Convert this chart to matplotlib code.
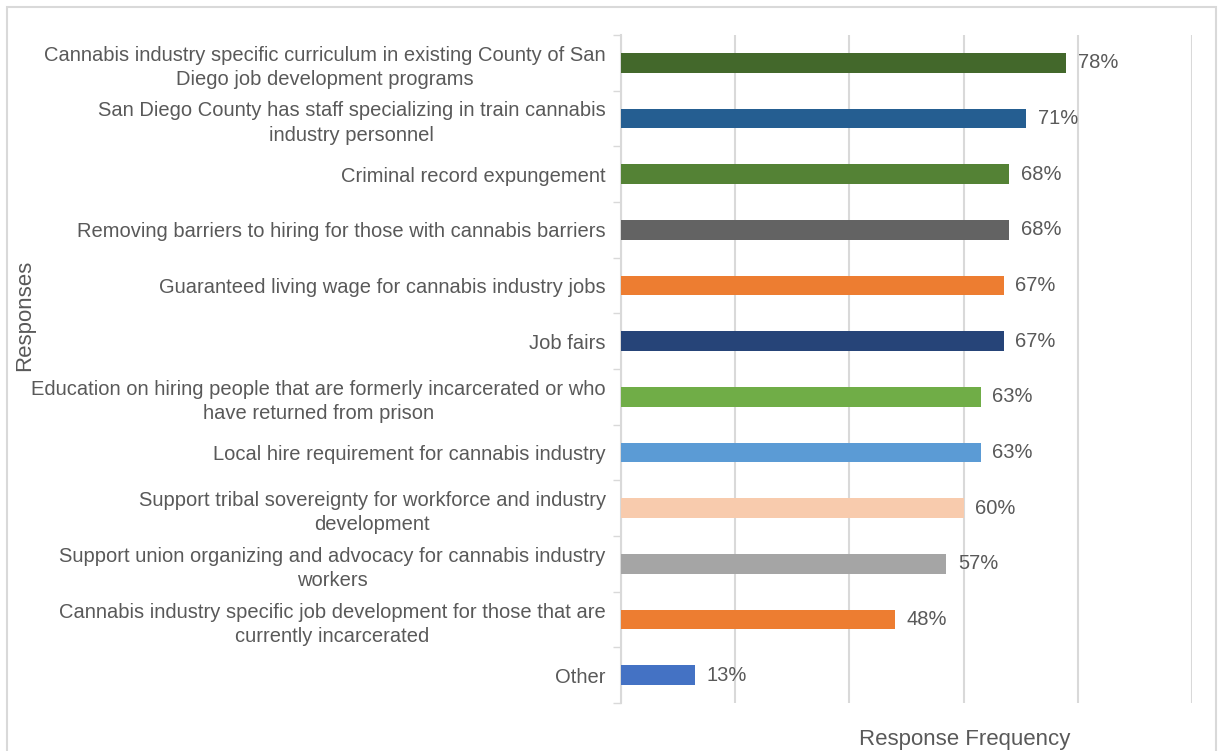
import matplotlib.pyplot as plt
from matplotlib.patches import Rectangle

plt.rcParams['font.family'] = ['Liberation Sans', 'DejaVu Sans']

responses = [
    "Cannabis industry specific curriculum in existing County of San\nDiego job development programs",
    "San Diego County has staff specializing in train cannabis\nindustry personnel",
    "Criminal record expungement",
    "Removing barriers to hiring for those with cannabis barriers",
    "Guaranteed living wage for cannabis industry jobs",
    "Job fairs",
    "Education on hiring people that are formerly incarcerated or who\nhave returned from prison",
    "Local hire requirement for cannabis industry",
    "Support tribal sovereignty for workforce and industry\ndevelopment",
    "Support union organizing and advocacy for cannabis industry\nworkers",
    "Cannabis industry specific job development for those that are\ncurrently incarcerated",
    "Other",
]
frequency = [78, 71, 68, 68, 67, 67, 63, 63, 60, 57, 48, 13]
colors = ["#43682B", "#255E91", "#548235", "#636363", "#ED7D31", "#264478",
          "#70AD47", "#5B9BD5", "#F8CBAD", "#A5A5A5", "#ED7D31", "#4472C4"]

text_color = "#595959"
grid_color = "#D9D9D9"

fig = plt.figure(figsize=(12.2, 7.51), dpi=100)
ax = fig.add_axes([621 / 1220, 1 - 703 / 751, (1192 - 621) / 1220, (703 - 35) / 751])

y = list(range(len(responses)))
ax.barh(y, frequency, height=0.35, color=colors, zorder=3)
for yi, v in zip(y, frequency):
    ax.text(v + 2, yi, f"{v}%", va="center", ha="left", fontsize=14.5, color=text_color)

ax.set_xlim(0, 100)
ax.set_ylim(len(responses) - 0.5, -0.5)
ax.set_xticks([0, 20, 40, 60, 80, 100])
ax.set_xticklabels([])
ax.tick_params(axis="x", length=0)
ax.grid(axis="x", color=grid_color, linewidth=1.5, zorder=0)

ax.set_yticks(y)
ax.set_yticklabels(responses, fontsize=14.5, color=text_color, linespacing=1.35)
for lab in ax.get_yticklabels():
    lab.set_multialignment("center")
ax.tick_params(axis="y", length=0, pad=11)
ax.set_yticks([i - 0.5 for i in range(len(responses) + 1)], minor=True)
ax.tick_params(axis="y", which="minor", length=6, color=grid_color, width=1)

for s in ["top", "right", "bottom"]:
    ax.spines[s].set_visible(False)
ax.spines["left"].set_color(grid_color)
ax.spines["left"].set_linewidth(1.5)

fig.text(25 / 1220, 1 - 315 / 751, "Responses", rotation=90, va="center", ha="center",
         fontsize=16, color=text_color)
fig.text(965 / 1220, 1 - 740 / 751, "Response Frequency", va="center", ha="center",
         fontsize=16, color=text_color)

fig.patches.append(Rectangle((7 / 1220, -0.05), (1216 - 7) / 1220, 1.05 - 7 / 751,
                             transform=fig.transFigure, fill=False,
                             edgecolor=grid_color, linewidth=1.5))

fig.savefig("out.png", dpi=100)
